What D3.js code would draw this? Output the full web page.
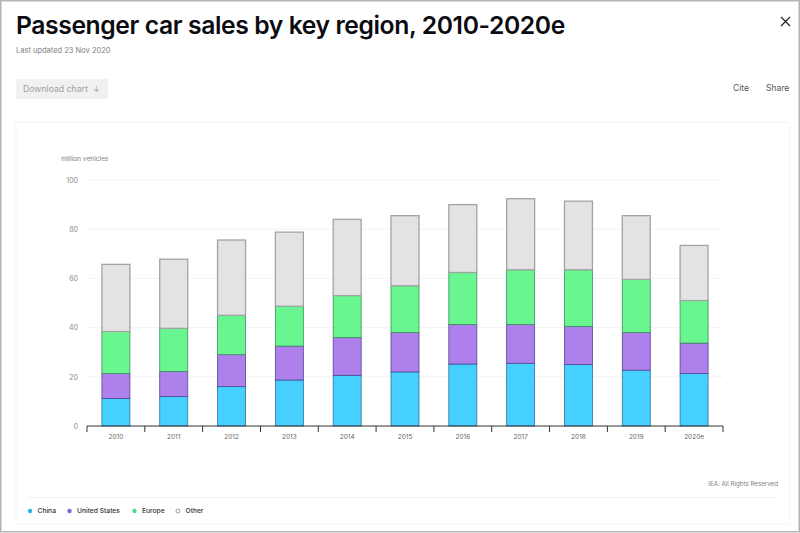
<!DOCTYPE html>
<html><head><meta charset="utf-8">
<script src="https://cdn.jsdelivr.net/npm/d3@7"></script>
<style>html,body{margin:0;padding:0;background:#fff}svg{display:block}text{font-family:Inter,"Noto Sans",sans-serif}</style>
</head><body><svg id="c" width="800" height="533"></svg>
<script>
const years=["2010","2011","2012","2013","2014","2015","2016","2017","2018","2019","2020e"];
const china=[11.2,12,16,18.7,20.6,22,25.2,25.5,25,22.7,21.3];
const unitedStates=[10.1,10.2,13,13.8,15.4,16,16.1,15.8,15.5,15.3,12.4];
const europe=[17.1,17.5,16,16.2,17,19,21.1,22.2,23,21.6,17.3];
const other=[27.3,28.1,30.6,30.1,31,28.5,27.6,28.9,27.9,25.9,22.4];
const seriesNames=["China","United States","Europe","Other"];
const seriesColors=["#45d0ff","#ae80ec","#69f58f","#e3e3e3"];
const strokeColors=["#2f6f9c","#4f4690","#3f8f60","#a3a3a3"];
const yTicks=[0,20,40,60,80,100];

const svg=d3.select("#c");
const txt=(x,y,s,size,fill,opts={})=>svg.append("text").attr("x",x).attr("y",y).text(s)
  .attr("font-size",size).attr("fill",fill).attr("font-weight",opts.w||400)
  .attr("text-anchor",opts.a||"start").attr("letter-spacing",opts.ls||null);

// frame
svg.append("rect").attr("x",.75).attr("y",.75).attr("width",798.5).attr("height",531).attr("fill","#fff").attr("stroke","#b5b5b5").attr("stroke-width",1.5);
svg.append("rect").attr("x",16).attr("y",122).attr("width",774).attr("height",402).attr("fill","#fff").attr("stroke","#f4f4f4");

// header
txt(16,33.5,"Passenger car sales by key region, 2010-2020e",24.7,"#0b0b10",{w:600,ls:"-0.4"});
txt(16,53,"Last updated 23 Nov 2020",7.5,"#808080");
svg.append("rect").attr("x",16).attr("y",79).attr("width",92).attr("height",20).attr("fill","#f1f1f1");
txt(23,92,"Download chart",8.7,"#a0a0a0");
txt(93,92,"↓",8,"#a0a0a0");
txt(733,91,"Cite",8.5,"#555");
txt(766,91,"Share",8.5,"#555");
svg.append("path").attr("d","M781 17L790 26M790 17L781 26").attr("stroke","#222").attr("stroke-width",1.2).attr("fill","none");

// scales
const x=d3.scaleBand().domain(years).range([87,723]).padding(0);
const y=d3.scaleLinear().domain([0,100]).range([426,180]);
const rows=years.map((yr,i)=>({year:yr,China:china[i],"United States":unitedStates[i],Europe:europe[i],Other:other[i]}));
const stacked=d3.stack().keys(seriesNames)(rows);

// grid
svg.append("g").selectAll("line").data(yTicks.filter(d=>d>0)).join("line")
  .attr("x1",87).attr("x2",723).attr("y1",d=>y(d)).attr("y2",d=>y(d)).attr("stroke","#f3f3f3");

// y axis
const yA=svg.append("g").attr("transform","translate(87,0)").call(d3.axisLeft(y).tickValues(yTicks).tickSize(0).tickPadding(9));
yA.select(".domain").remove();
yA.selectAll("text").attr("font-size",7).attr("fill","#8a8a8a").style("font-family","Inter,sans-serif");
txt(61,161,"million vehicles",6.6,"#808080");

// bars
const barW=28;
stacked.forEach((s,i)=>{
  svg.append("g").selectAll("rect").data(s).join("rect")
   .attr("x",d=>x(d.data.year)+x.bandwidth()/2-barW/2)
   .attr("width",barW)
   .attr("y",d=>y(d[1]))
   .attr("height",d=>y(d[0])-y(d[1]))
   .attr("fill",seriesColors[i]).attr("stroke",strokeColors[i]).attr("stroke-width",i==3?1.3:0.8);
});

// x axis
const xA=svg.append("g").attr("transform","translate(0,426)").call(d3.axisBottom(x).tickSize(0).tickPadding(8));
xA.select(".domain").attr("stroke","#333").attr("d","M87,0H723");
xA.selectAll("text").attr("font-size",6.5).attr("fill","#666").style("font-family","Inter,sans-serif");
svg.append("g").attr("transform","translate(0,426)").selectAll("line")
  .data(d3.range(years.length+1)).join("line")
  .attr("x1",i=>87+i*x.step()).attr("x2",i=>87+i*x.step()).attr("y1",0).attr("y2",6).attr("stroke","#333");

// footer
txt(778,486,"IEA. All Rights Reserved",6.2,"#808080",{a:"end"});
svg.append("line").attr("x1",27).attr("x2",778).attr("y1",497.5).attr("y2",497.5).attr("stroke","#f1f1f1");

// legend
const legendX=[30,69.5,134.5,178];
const legendDot=["#2eb4ec","#8a5fdc","#52dc86","#fff"];
seriesNames.forEach((n,i)=>{
  svg.append("circle").attr("cx",legendX[i]).attr("cy",511).attr("r",i==3?2:2.2)
    .attr("fill",legendDot[i]).attr("stroke",i==3?"#777":"none").attr("stroke-width",.7);
  txt(legendX[i]+7.5,513,n,6.7,"#333",{w:500});
});
</script></body></html>
